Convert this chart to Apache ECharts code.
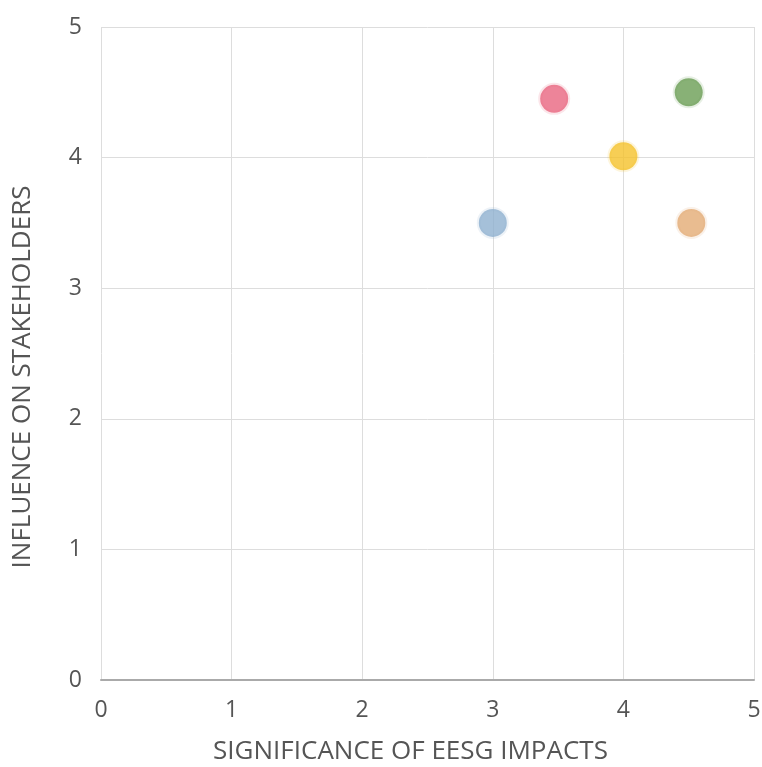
<!DOCTYPE html>
<html><head><meta charset="utf-8">
<script src="https://cdn.jsdelivr.net/npm/echarts@6/dist/echarts.min.js"></script>
<style>html,body{margin:0;padding:0;background:#fff}#c{width:762px;height:767px}</style>
</head><body><div id="c"></div>
<script>
const xValues = [3, 3.47, 4, 4.5, 4.52];
const yValues = [3.5, 4.45, 4.01, 4.5, 3.5];
const colors = ['#8eb0cf', '#e8657f', '#f5c22a', '#6a9e54', '#e3ab74'];
const axisTicks = [0, 1, 2, 3, 4, 5];
const xTitle = 'SIGNIFICANCE OF EESG IMPACTS';
const yTitle = 'INFLUENCE ON STAKEHOLDERS';

const chart = echarts.init(document.getElementById('c'));
const font = '"Open Sans", sans-serif';
chart.setOption({
  animation: false,
  grid: {left: 101, right: 8, top: 27, bottom: 87, outerBoundsMode: 'none', containLabel: false},
  xAxis: {
    type: 'value', min: axisTicks[0], max: axisTicks[axisTicks.length-1], interval: 1,
    name: xTitle, nameLocation: 'middle', nameGap: 59,
    nameTextStyle: {fontFamily: font, fontSize: 26, color: '#555', padding: [0, 34, 0, 0]},
    axisLine: {show: true, lineStyle: {color: '#aaa', width: 2}},
    axisTick: {show: false},
    axisLabel: {fontFamily: font, fontSize: 23, color: '#555', margin: 19},
    splitLine: {show: true, lineStyle: {color: '#ddd', width: 1}}
  },
  yAxis: {
    type: 'value', min: axisTicks[0], max: axisTicks[axisTicks.length-1], interval: 1,
    name: yTitle, nameLocation: 'middle', nameGap: 65,
    nameTextStyle: {fontFamily: font, fontSize: 26, color: '#555', padding: [0, 47, 0, 0]},
    axisLine: {show: false},
    axisTick: {show: false},
    axisLabel: {fontFamily: font, fontSize: 23, color: '#555', margin: 19},
    splitLine: {show: true, lineStyle: {color: '#ddd', width: 1}}
  },
  series: [{
    type: 'scatter',
    symbolSize: 28,
    data: xValues.map((x, i) => ({
      value: [x, yValues[i]],
      itemStyle: {color: colors[i], borderColor: echarts.color.modifyAlpha(colors[i], 0.2), borderWidth: 4}
    }))
  }]
});
</script></body></html>
